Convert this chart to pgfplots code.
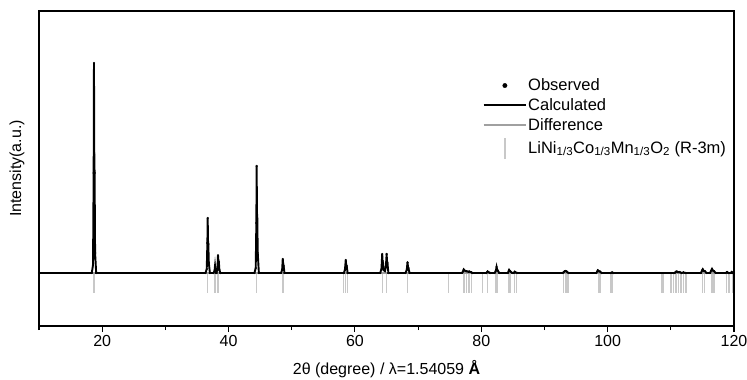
\documentclass[border=0pt]{standalone}
\usepackage{fontspec}
\setmainfont{Liberation Sans}
\usepackage{pgfplots}
\usepackage{pgfplotstable}
\pgfplotsset{compat=1.18}
\definecolor{difcol}{HTML}{A0A0A0}
\definecolor{refcol}{HTML}{C8C8C8}
\pgfplotstableread{
x y
10 0
18.35 0
18.55 8
18.65 100
18.70 210
18.75 120
18.80 100
18.88 20
19.05 0
36.35 0
36.55 4
36.65 30
36.70 55
36.75 32
36.80 29
36.88 10
37.05 0
37.6 0
37.78 2
37.86 7
37.94 2
38.05 0
38.10 0
38.25 5
38.33 17.7
38.40 12
38.47 11
38.55 3
38.7 0
44.1 0
44.3 5
44.40 50
44.45 107
44.50 60
44.55 55
44.62 20
44.8 0
48.3 0
48.48 3
48.58 14
48.65 9
48.72 7
48.85 0
58.25 0
58.42 3
58.55 13
58.62 8
58.7 7
58.85 0
64.0 0
64.2 4
64.32 19
64.38 12
64.45 10
64.55 3
64.75 2
64.9 6
65.02 19
65.08 12
65.15 10
65.3 0
68.0 0
68.2 3
68.33 10.7
68.40 6
68.47 5
68.65 0
76.95 0
77.1 1.5
77.22 3.5
77.35 2.5
77.55 2
77.7 1.8
78.0 1.2
78.1 1.5
78.4 0.8
78.6 0
80.8 0
81.0 1.5
81.15 0.8
81.4 0
82.1 0
82.3 2
82.42 6
82.52 3
82.6 2.5
82.85 0
84.2 0
84.4 3
84.5 2
84.6 1.6
84.9 0
85.15 0
85.3 1.3
85.45 0.6
85.7 0
92.9 0
93.15 1.5
93.3 2
93.5 1.6
93.8 0
98.2 0
98.45 2.7
98.6 1.8
98.8 1.5
99.05 0
100.5 0
100.7 0.6
100.9 0
110.6 0
110.8 1.2
110.95 1.5
111.15 0.8
111.4 0.9
111.7 0
112.0 0.6
112.3 0
114.75 0
114.95 2.5
115.05 3.7
115.2 2.2
115.4 1.8
115.65 0
116.2 0
116.4 2.5
116.52 4
116.65 2.5
116.85 1.8
117.1 0
118.7 0
118.9 1
119.1 0
119.5 0
119.65 1
119.8 0
120 0
}\calc
\pgfplotstableread{
x y
10 0
120 0
}\diff
\pgfplotstableread{
x y
18.70 -20
36.70 -20
37.86 -20
38.30 -20
44.45 -20
48.60 -20
58.17 -20
58.50 -20
58.80 -20
64.34 -20
65.03 -20
68.35 -20
74.8 -20
77.27 -20
77.7 -20
78.06 -20
78.42 -20
80.2 -20
81.0 -20
82.3 -20
82.5 -20
84.4 -20
84.6 -20
85.3 -20
85.6 -20
93.05 -20
93.3 -20
93.5 -20
93.7 -20
98.55 -20
98.8 -20
100.5 -20
100.75 -20
108.6 -20
108.85 -20
110.0 -20
110.4 -20
110.8 -20
111.2 -20
111.6 -20
112.0 -20
112.4 -20
115.0 -20
115.3 -20
116.5 -20
116.85 -20
118.8 -20
119.2 -20
119.75 -20
}\refl
\begin{document}
\fontsize{16}{19}\selectfont
\begin{tikzpicture}
\useasboundingbox (-39pt,-54pt) rectangle (708pt,326pt);
\begin{axis}[
  at={(0pt,0pt)}, anchor=south west,
  scale only axis, width=695pt, height=315pt,
  xmin=10, xmax=120, ymin=-53, ymax=262,
  xtick={20,40,...,120},
  minor xtick={10,30,...,110},
  ytick=\empty,
  xtick pos=bottom,
  tick align=outside,
  major tick length=6pt, minor tick length=4pt,
  every tick/.style={black, line width=1.1pt},
  axis line style={line width=1.4pt},
  /pgf/number format/assume math mode=true,
  xticklabel style={font=\fontsize{16}{19}\selectfont, yshift=2pt},
  xlabel={2θ (degree) / λ=1.54059 \textbf{Å}},
  ylabel={Intensity(a.u.)},
  every axis x label/.style={at={(axis description cs:0.5,-0.155)}, anchor=base},
  every axis y label/.style={at={(axis description cs:-0.0317,0.5)}, anchor=center, rotate=90},
  legend style={draw=none, fill=none, at={(axis description cs:0.638,0.79)}, anchor=north west,
    font=\fontsize{16.5}{19}\selectfont, row sep=3.5pt, inner sep=0pt,
    nodes={inner sep=1pt}},
  legend cell align=left,
]
\addlegendimage{only marks, mark=*, black, legend image code/.code={\fill[black] (0.75cm,0cm) circle (2.2pt);}}
\addlegendentry{Observed}
\addlegendimage{legend image code/.code={\draw[black, line width=1.9pt] (0cm,0cm) -- (1.5cm,0cm);}}
\addlegendentry{Calculated}
\addlegendimage{legend image code/.code={\draw[difcol, line width=1.7pt] (0cm,0cm) -- (1.5cm,0cm);}}
\addlegendentry{Difference}
\addlegendimage{legend image code/.code={\draw[refcol, line width=1.2pt] (0.75cm,-0.38cm) -- (0.75cm,0.38cm);}}
\addlegendentry{LiNi\textsubscript{1/3}Co\textsubscript{1/3}Mn\textsubscript{1/3}O\textsubscript{2} (R-3m)}
\addplot[refcol, ycomb, line width=1.4pt, forget plot] table {\refl};
\addplot[difcol, line width=1.2pt, forget plot] table {\diff};
\addplot[black, line width=1.9pt, forget plot] table {\calc};
\addplot[only marks, mark=*, mark size=0.9pt, black, forget plot] table {\calc};
\end{axis}
\end{tikzpicture}
\end{document}
